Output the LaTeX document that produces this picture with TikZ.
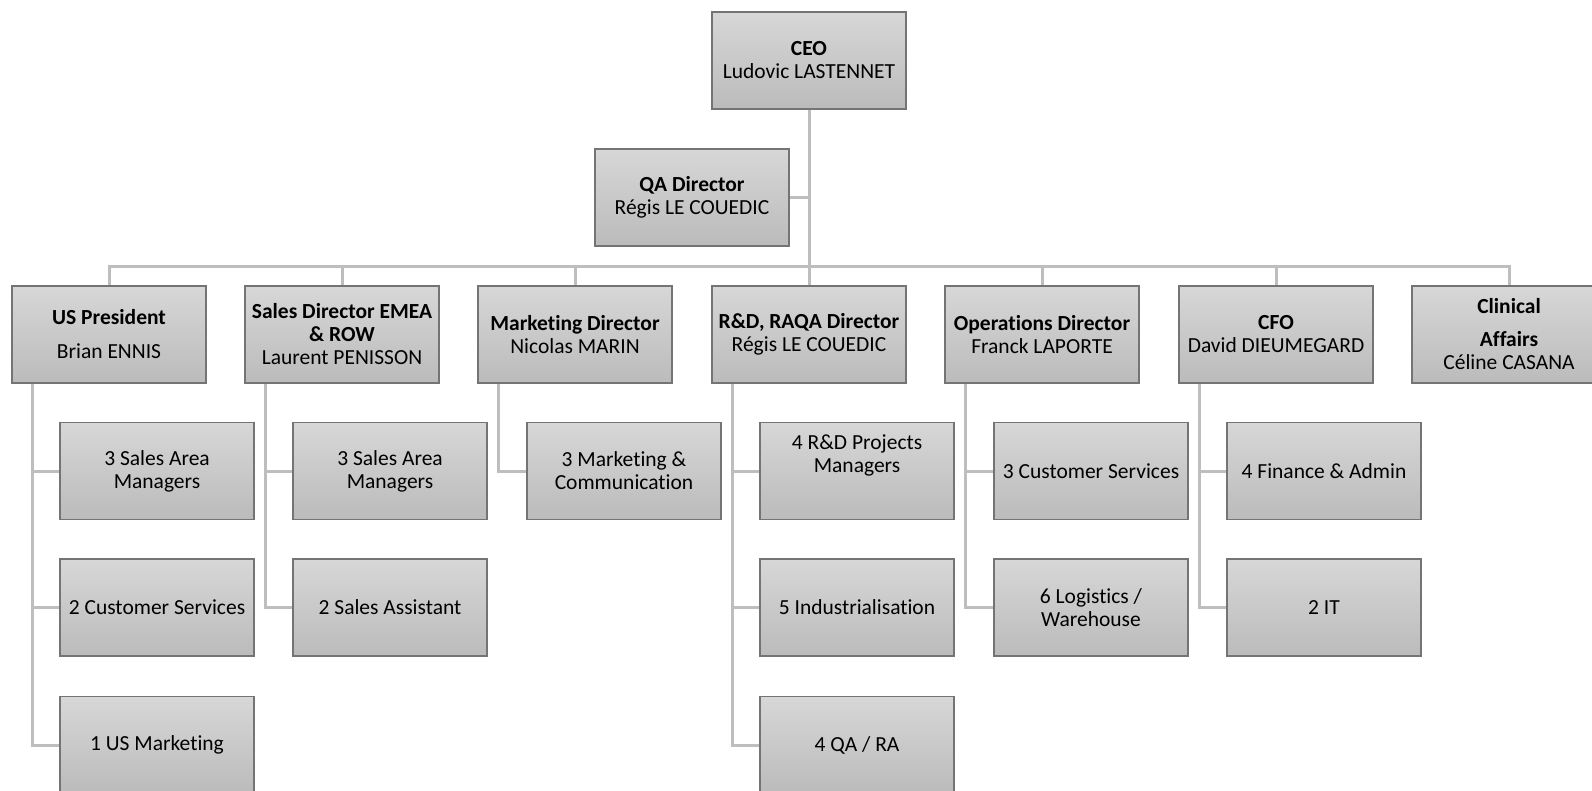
\documentclass[tikz,border=0pt]{standalone}
\usepackage{fontspec}
\setmainfont{Carlito}[Ligatures=NoCommon]
\usetikzlibrary{backgrounds}
\definecolor{boxtop}{HTML}{D7D7D7}
\definecolor{boxbot}{HTML}{BBBBBB}
\definecolor{boxline}{HTML}{747474}
\definecolor{connline}{HTML}{BEBEBE}
\begin{document}
\begin{tikzpicture}[x=1pt,y=-1pt,
  orgbox/.style={rectangle, draw=boxline, line width=1.2pt,
    top color=boxtop, bottom color=boxbot,
    minimum width=194pt, minimum height=97pt, inner sep=2pt,
    align=center, text=black, font=\fontsize{21.5}{23}\selectfont},
  conn/.style={draw=connline, line width=3pt}]
\useasboundingbox (0,0) rectangle (1592,791);

% top of the chart
\node[orgbox] (ceo) at (809,60.5) {\textbf{CEO}\\Ludovic LASTENNET};
\node[orgbox] (qa) at (692,197.5) {\textbf{QA Director}\\Régis LE COUEDIC};

% department heads
\node[orgbox] (us) at (109,334.5) {\textbf{US President}\\[11pt]Brian ENNIS};
\node[orgbox] (sales) at (342,334.5) {\textbf{Sales Director EMEA}\\\textbf{\& ROW}\\Laurent PENISSON};
\node[orgbox] (mkt) at (575,334.5) {\textbf{Marketing Director}\\Nicolas MARIN};
\node[orgbox] (rd) at (809,334.5) {\textbf{R\&D, RAQA Director}\\Régis LE COUEDIC};
\node[orgbox] (ops) at (1042,334.5) {\textbf{Operations Director}\\Franck LAPORTE};
\node[orgbox] (cfo) at (1276,334.5) {\textbf{CFO}\\David DIEUMEGARD};
\node[orgbox] (clin) at (1509,334.5) {\textbf{Clinical}\\[10pt]\textbf{Affairs}\\Céline CASANA};

% teams
\node[orgbox] (usa) at (157,471) {3 Sales Area\\Managers};
\node[orgbox] (usb) at (157,607.5) {2 Customer Services};
\node[orgbox] (usc) at (157,745) {1 US Marketing};

\node[orgbox] (saa) at (390,471) {3 Sales Area\\Managers};
\node[orgbox] (sab) at (390,607.5) {2 Sales Assistant};

\node[orgbox] (mka) at (624,471) {3 Marketing \&\\Communication};

\node[orgbox] (rda) at (857,471) {4 R\&D Projects\\Managers\\[11pt]\mbox{}};
\node[orgbox] (rdb) at (857,607.5) {5 Industrialisation};
\node[orgbox] (rdc) at (857,745) {4 QA / RA};

\node[orgbox] (opa) at (1091,471) {3 Customer Services};
\node[orgbox] (opb) at (1091,607.5) {6 Logistics /\\Warehouse};

\node[orgbox] (cfa) at (1324,471) {4 Finance \& Admin};
\node[orgbox] (cfb) at (1324,607.5) {2 IT};

% connectors, drawn behind the boxes
\begin{scope}[on background layer]
  \coordinate (bus) at (809,267);
  \draw[conn] (ceo.south) -- (bus);
  \draw[conn] (qa.east) -- (qa.east -| ceo.south);
  \draw[conn] (us.north) |- (bus) -| (clin.north);
  \foreach \h in {sales,mkt,rd,ops,cfo}
    \draw[conn] (\h.north) -- (\h.north |- bus);

  % rails from each head down to its teams
  \foreach \h/\last in {us/usc,sales/sab,mkt/mka,rd/rdc,ops/opb,cfo/cfb}{
    \coordinate (\h rail) at ([xshift=21pt]\h.south west);
    \draw[conn] (\h rail) |- (\last.west);
  }
  \foreach \t/\h in {usa/us,usb/us,saa/sales,rda/rd,rdb/rd,opa/ops,cfa/cfo}
    \draw[conn] (\t.west) -- (\t.west -| \h rail);
\end{scope}
\end{tikzpicture}
\end{document}
